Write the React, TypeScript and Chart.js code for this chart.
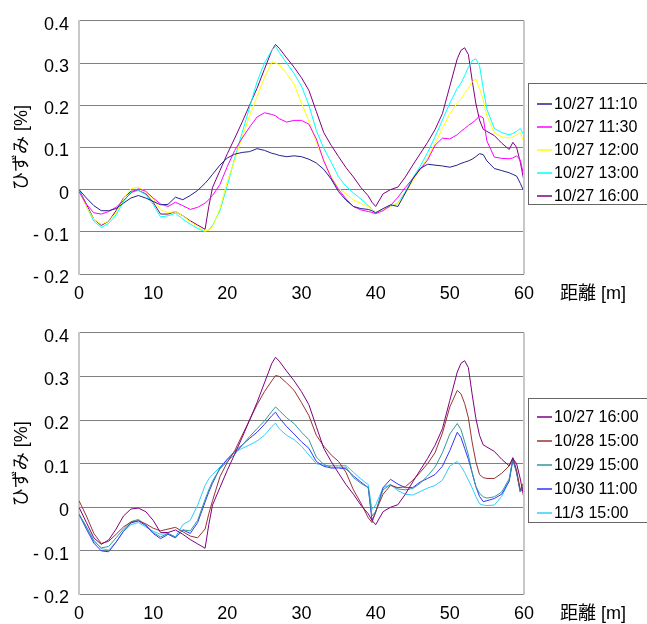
import React, { useEffect, useRef } from 'react';
import { Chart, registerables } from 'chart.js';

Chart.register(...registerables);

const FONT = '"Liberation Sans", Arial, "Noto Sans CJK JP", sans-serif';

// distance [m]
const distance = [
  0, 1, 2, 3, 4, 5, 6, 7, 8, 9, 10, 11, 12, 13, 14, 15, 16, 17, 17.5,
  18, 19, 20, 21, 22, 23, 24, 25, 26, 26.5,
  27, 28, 29, 30, 31, 32, 33, 34, 35, 36, 37, 38, 39, 39.5,
  40, 41, 42, 43, 44, 45, 46, 47, 48, 49, 50, 51,
  51.5, 52, 52.5, 53, 53.5, 54, 54.5, 55, 56, 57, 58, 58.5, 59, 59.5, 60,
];

// top chart series
const s1027_1110 = [
  0, -0.02, -0.038, -0.05, -0.05, -0.045, -0.032, -0.02, -0.014, -0.02, -0.028, -0.036, -0.035, -0.018, -0.024, -0.014, -0.002, 0.015, 0.025,
  0.036, 0.058, 0.075, 0.084, 0.088, 0.09, 0.097, 0.093, 0.086, 0.084,
  0.081, 0.078, 0.08, 0.078, 0.072, 0.063, 0.048, 0.025, -0.005, -0.025, -0.04, -0.045, -0.047, -0.05,
  -0.055, -0.045, -0.036, -0.04, -0.008, 0.025, 0.05, 0.06, 0.058, 0.056, 0.053, 0.058,
  0.062, 0.065, 0.068, 0.072, 0.078, 0.085, 0.083, 0.068, 0.05, 0.045, 0.04, 0.036, 0.032, 0.015, -0.005,
];
const s1027_1130 = [
  -0.005, -0.035, -0.055, -0.058, -0.052, -0.042, -0.026, -0.008, 0.002, -0.004, -0.02, -0.034, -0.04, -0.03, -0.038, -0.047, -0.042, -0.032, -0.024,
  -0.014, 0.012, 0.055, 0.093, 0.122, 0.148, 0.172, 0.182, 0.178, 0.175,
  0.168, 0.16, 0.164, 0.164, 0.155, 0.12, 0.068, 0.028, 0.0, -0.022, -0.04, -0.048, -0.052, -0.054,
  -0.057, -0.05, -0.038, -0.018, 0.005, 0.026, 0.048, 0.07, 0.105, 0.122, 0.12, 0.13,
  0.138, 0.145, 0.152, 0.158, 0.165, 0.175, 0.17, 0.115, 0.077, 0.074, 0.073, 0.075, 0.08, 0.07, 0.03,
];
const s1027_1200 = [
  -0.005, -0.04, -0.07, -0.082, -0.075, -0.055, -0.022, 0.002, 0.006, -0.005, -0.022, -0.048, -0.055, -0.052, -0.062, -0.076, -0.088, -0.098, -0.096,
  -0.088, -0.045, 0.02, 0.07, 0.125, 0.175, 0.22, 0.265, 0.302, 0.3,
  0.295, 0.275, 0.25, 0.205, 0.162, 0.112, 0.07, 0.03, 0.003, -0.01, -0.024, -0.033, -0.04, -0.046,
  -0.054, -0.046, -0.04, -0.032, -0.01, 0.02, 0.048, 0.075, 0.11, 0.145, 0.18, 0.205,
  0.214, 0.228, 0.24, 0.255, 0.262, 0.24, 0.212, 0.175, 0.135, 0.125, 0.122, 0.125, 0.13, 0.135, 0.112,
];
const s1027_1300 = [
  0, -0.04, -0.075, -0.09, -0.08, -0.06, -0.028, -0.006, -0.002, -0.012, -0.035, -0.065, -0.062, -0.056, -0.07, -0.082, -0.092, -0.1, -0.095,
  -0.085, -0.05, 0.01, 0.075, 0.135, 0.195, 0.255, 0.3, 0.33, 0.34,
  0.325, 0.3, 0.275, 0.245, 0.2, 0.14, 0.098, 0.065, 0.03, 0.008, -0.008, -0.022, -0.038, -0.046,
  -0.054, -0.046, -0.04, -0.032, -0.005, 0.028, 0.055, 0.088, 0.125, 0.165, 0.205, 0.24,
  0.252, 0.27, 0.29, 0.305, 0.31, 0.294, 0.24, 0.19, 0.145, 0.135, 0.13, 0.133, 0.138, 0.145, 0.128,
];
const s1027_1600 = [
  0, -0.035, -0.07, -0.085, -0.075, -0.05, -0.02, -0.004, -0.002, -0.01, -0.03, -0.058, -0.058, -0.052, -0.062, -0.074, -0.084, -0.094, -0.04,
  0.005, 0.045, 0.085, 0.122, 0.16, 0.2, 0.24, 0.285, 0.33, 0.344,
  0.335, 0.312, 0.29, 0.265, 0.235, 0.185, 0.135, 0.105, 0.078, 0.052, 0.03, 0.005, -0.015, -0.03,
  -0.04, -0.01, 0.0, 0.006, 0.03, 0.058, 0.085, 0.112, 0.142, 0.18, 0.245, 0.31,
  0.33, 0.336, 0.32, 0.26, 0.205, 0.165, 0.143, 0.138, 0.128, 0.11, 0.095, 0.112, 0.1, 0.065, 0.02,
];

// bottom chart series
const s1028_1500 = [
  0.015, -0.02, -0.06, -0.083, -0.078, -0.062, -0.045, -0.034, -0.031, -0.038, -0.048, -0.054, -0.05, -0.046, -0.056, -0.066, -0.07, -0.05, -0.015,
  0.015, 0.07, 0.103, 0.13, 0.165, 0.2, 0.235, 0.265, 0.29, 0.302,
  0.3, 0.285, 0.268, 0.24, 0.21, 0.165, 0.14, 0.12, 0.105, 0.08, 0.04, 0.01, -0.024, -0.035,
  -0.01, 0.03, 0.05, 0.045, 0.047, 0.062, 0.08, 0.1, 0.125, 0.17, 0.23, 0.268,
  0.26, 0.238, 0.205, 0.15, 0.105, 0.075, 0.068, 0.066, 0.066, 0.078, 0.095, 0.114, 0.085, 0.04, 0.058,
];
const s1029_1500 = [
  -0.016, -0.045, -0.078, -0.093, -0.09, -0.07, -0.05, -0.033, -0.028, -0.04, -0.058, -0.068, -0.06, -0.068, -0.052, -0.054, -0.03, 0.018, 0.04,
  0.06, 0.088, 0.105, 0.122, 0.142, 0.162, 0.18, 0.198, 0.22, 0.23,
  0.222, 0.205, 0.192, 0.172, 0.155, 0.115, 0.098, 0.092, 0.092, 0.092, 0.068, 0.055, 0.045, -0.02,
  -0.01, 0.04, 0.052, 0.042, 0.04, 0.043, 0.055, 0.072, 0.092, 0.125, 0.168, 0.192,
  0.178, 0.15, 0.12, 0.08, 0.048, 0.032, 0.024, 0.021, 0.024, 0.035, 0.065, 0.112, 0.08, 0.035, 0.05,
];
const s1030_1100 = [
  -0.016, -0.05, -0.082, -0.1, -0.102, -0.08, -0.055, -0.036, -0.031, -0.042, -0.06, -0.072, -0.062, -0.07, -0.052, -0.06, -0.035, 0.012, 0.035,
  0.055, 0.09, 0.11, 0.128, 0.143, 0.158, 0.172, 0.19, 0.21, 0.218,
  0.205, 0.185, 0.168, 0.15, 0.135, 0.105, 0.094, 0.09, 0.09, 0.088, 0.072, 0.058, 0.045, -0.03,
  -0.012, 0.045, 0.064, 0.053, 0.045, 0.045, 0.058, 0.066, 0.075, 0.094, 0.13, 0.172,
  0.16, 0.135, 0.11, 0.08, 0.048, 0.025, 0.013, 0.015, 0.02, 0.03, 0.06, 0.11, 0.08, 0.035, 0.05,
];
const s1103_1500 = [
  -0.016, -0.045, -0.075, -0.095, -0.098, -0.08, -0.055, -0.04, -0.035, -0.045, -0.055, -0.062, -0.06, -0.068, -0.04, -0.03, 0.005, 0.05, 0.065,
  0.075, 0.092, 0.11, 0.127, 0.135, 0.143, 0.152, 0.165, 0.185, 0.193,
  0.18, 0.165, 0.155, 0.14, 0.12, 0.1, 0.096, 0.096, 0.096, 0.096, 0.08, 0.065, 0.052, -0.005,
  0.005, 0.045, 0.052, 0.038, 0.03, 0.028, 0.036, 0.044, 0.05, 0.062, 0.095, 0.105,
  0.094, 0.08, 0.062, 0.045, 0.025, 0.008, 0.005, 0.004, 0.005, 0.025, 0.06, 0.107, 0.08, 0.036, 0.05,
];

const topLabels = ['10/27 11:10', '10/27 11:30', '10/27 12:00', '10/27 13:00', '10/27 16:00'];
const topSeries = [s1027_1110, s1027_1130, s1027_1200, s1027_1300, s1027_1600];
const topColors = ['#22228c', '#ff00ff', '#ffff00', '#00ffff', '#800080'];

const bottomLabels = ['10/27 16:00', '10/28 15:00', '10/29 15:00', '10/30 11:00', '11/3 15:00'];
const bottomSeries = [s1027_1600, s1028_1500, s1029_1500, s1030_1100, s1103_1500];
const bottomColors = ['#800080', '#993333', '#339999', '#3333ff', '#33ccff'];

const yTicks = [-0.2, -0.1, 0, 0.1, 0.2, 0.3, 0.4];
const xTicks = [0, 10, 20, 30, 40, 50, 60];

const yTitle = 'ひずみ [%]';
const xTitle = '距離 [m]';

function fmtY(v: number): string {
  const r = Math.round(v * 10) / 10;
  if (Math.abs(r) < 1e-9) return '0';
  if (r < 0) return '- ' + Math.abs(r).toFixed(1);
  return r.toFixed(1);
}

interface Deco {
  labels: string[];
  colors: string[];
  boxTop: number;
  boxHeight: number;
  itemTop: number;
  itemStep: number;
}

const decorPlugin = {
  id: 'decor',
  afterDraw(chart: any, _args: any, opts: Deco) {
    const { ctx, chartArea } = chart;
    ctx.save();
    // right border of plot area
    ctx.strokeStyle = '#c8c8c8';
    ctx.lineWidth = 2;
    ctx.beginPath();
    ctx.moveTo(chartArea.right, chartArea.top);
    ctx.lineTo(chartArea.right, chartArea.bottom);
    ctx.stroke();

    // y axis title
    ctx.fillStyle = '#000';
    ctx.font = `18px ${FONT}`;
    ctx.textAlign = 'center';
    ctx.textBaseline = 'middle';
    ctx.save();
    ctx.translate(22, (chartArea.top + chartArea.bottom) / 2);
    ctx.rotate(-Math.PI / 2);
    ctx.fillText(yTitle, 0, 0);
    ctx.restore();

    // x axis title
    ctx.textAlign = 'left';
    ctx.fillText(xTitle, 560, chartArea.bottom + 20);

    // legend
    ctx.strokeStyle = '#666';
    ctx.lineWidth = 1;
    ctx.strokeRect(528.5, opts.boxTop + 0.5, 140, opts.boxHeight);
    ctx.font = `16px ${FONT}`;
    ctx.textBaseline = 'middle';
    opts.labels.forEach((lab, i) => {
      const y = opts.itemTop + i * opts.itemStep;
      ctx.strokeStyle = opts.colors[i];
      ctx.lineWidth = 1.5;
      ctx.beginPath();
      ctx.moveTo(537, y);
      ctx.lineTo(552, y);
      ctx.stroke();
      ctx.fillStyle = '#000';
      ctx.fillText(lab, 554, y + 1);
    });
    ctx.restore();
  },
};

function makeChart(canvas: HTMLCanvasElement, series: number[][], labels: string[], colors: string[], xAxisHeight: number, deco: Deco) {
  return new Chart(canvas, {
    type: 'line',
    data: {
      datasets: series.map((vals, i) => ({
        label: labels[i],
        data: vals.map((v, j) => ({ x: distance[j], y: v })),
        borderColor: colors[i],
        backgroundColor: colors[i],
        borderWidth: 1,
        pointRadius: 0,
        tension: 0,
        fill: false,
      })),
    },
    options: {
      responsive: false,
      animation: false,
      devicePixelRatio: 1,
      layout: { padding: { left: 0, right: 123, top: 16, bottom: 0 } },
      plugins: {
        legend: { display: false },
        tooltip: { enabled: false },
        decor: deco,
      } as any,
      scales: {
        x: {
          type: 'linear',
          min: 0,
          max: 60,
          afterBuildTicks: (s: any) => { s.ticks = xTicks.map((v) => ({ value: v })); },
          afterFit: (s: any) => { s.height = xAxisHeight; },
          ticks: { color: '#000', font: { family: FONT, size: 18 }, padding: 9, maxRotation: 0 },
          grid: { display: false, drawTicks: false },
          border: { display: false },
        },
        y: {
          type: 'linear',
          min: -0.2,
          max: 0.4,
          afterBuildTicks: (s: any) => { s.ticks = yTicks.map((v) => ({ value: v })); },
          afterFit: (s: any) => { s.width = 79; },
          ticks: {
            color: '#000',
            font: { family: FONT, size: 18 },
            padding: 10,
            labelOffset: 4,
            callback: (v: any) => fmtY(Number(v)),
          },
          grid: { color: '#808080', lineWidth: 1, drawTicks: false },
          border: { color: '#c8c8c8', width: 2 },
        },
      },
    },
    plugins: [decorPlugin],
  } as any);
}

export default function App() {
  const topRef = useRef<HTMLCanvasElement>(null);
  const botRef = useRef<HTMLCanvasElement>(null);

  useEffect(() => {
    const c1 = makeChart(topRef.current!, topSeries, topLabels, topColors, 38, {
      labels: topLabels, colors: topColors, boxTop: 83, boxHeight: 121, itemTop: 104, itemStep: 23,
    });
    const c2 = makeChart(botRef.current!, bottomSeries, bottomLabels, bottomColors, 29.5, {
      labels: bottomLabels, colors: bottomColors, boxTop: 86, boxHeight: 124, itemTop: 105, itemStep: 24,
    });
    return () => { c1.destroy(); c2.destroy(); };
  }, []);

  return (
    <div style={{ position: 'absolute', left: 0, top: 0, width: 647, height: 624, background: '#fff' }}>
      <canvas ref={topRef} width={647} height={312} style={{ display: 'block', width: 647, height: 312 }} />
      <canvas ref={botRef} width={647} height={312} style={{ display: 'block', width: 647, height: 312 }} />
    </div>
  );
}
